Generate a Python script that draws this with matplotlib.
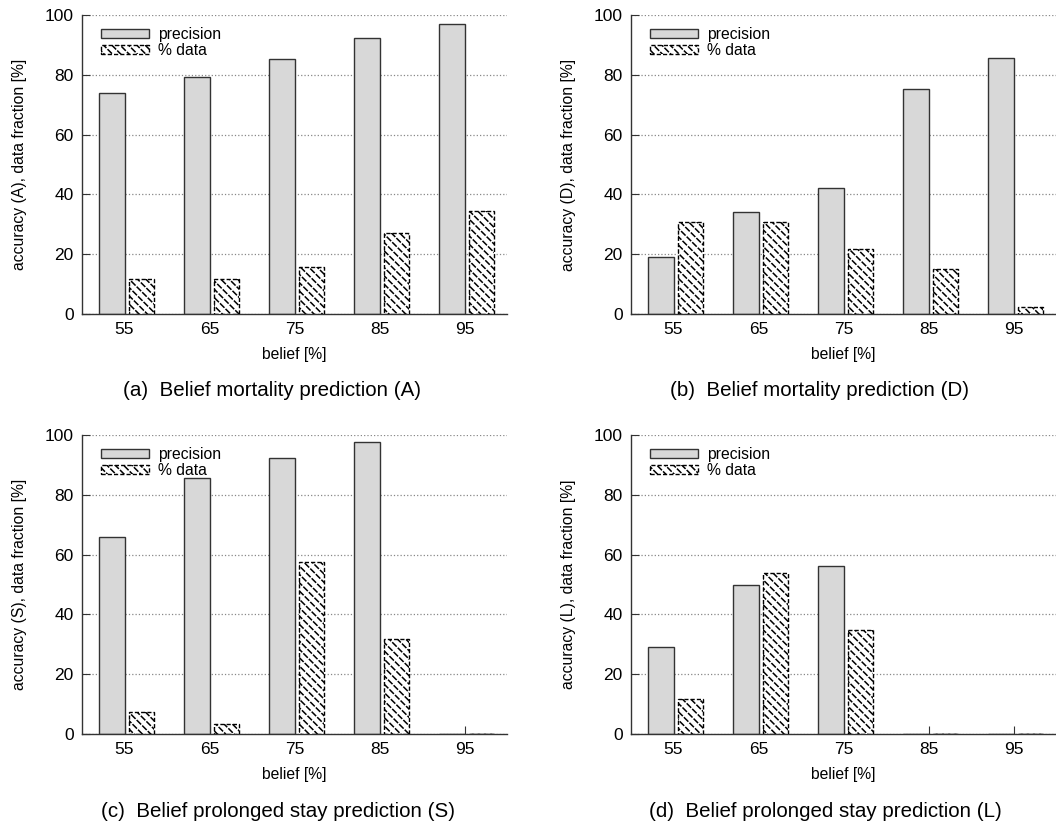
import numpy as np
import matplotlib
matplotlib.use("Agg")
import matplotlib.pyplot as plt
from matplotlib.patches import Patch
from matplotlib.legend_handler import HandlerTuple

plt.rcParams['font.family'] = ['Liberation Sans', 'DejaVu Sans']
plt.rcParams['hatch.linewidth'] = 1.1

belief = ['55', '65', '75', '85', '95']

# (a) mortality A
prec_a = [74.0, 79.4, 85.2, 92.3, 97.0]
data_a = [11.7, 11.7, 15.7, 27.1, 34.5]
# (b) mortality D
prec_b = [19.0, 34.1, 42.3, 75.1, 85.7]
data_b = [30.7, 30.7, 21.9, 14.9, 2.2]
# (c) prolonged stay S
prec_c = [65.9, 85.7, 92.2, 97.5, 0]
data_c = [7.5, 3.3, 57.5, 31.9, 0]
# (d) prolonged stay L
prec_d = [29.1, 49.9, 56.1, 0, 0]
data_d = [11.8, 53.8, 34.8, 0, 0]

panels = [
    (prec_a, data_a, 'accuracy (A), data fraction [%]', '(a)  Belief mortality prediction (A)'),
    (prec_b, data_b, 'accuracy (D), data fraction [%]', '(b)  Belief mortality prediction (D)'),
    (prec_c, data_c, 'accuracy (S), data fraction [%]', '(c)  Belief prolonged stay prediction (S)'),
    (prec_d, data_d, 'accuracy (L), data fraction [%]', '(d)  Belief prolonged stay prediction (L)'),
]

W, H = 1056, 822
fig = plt.figure(figsize=(W / 100, H / 100), dpi=100)

# axes boxes in pixels: left, top, right, bottom
boxes = [(82, 15, 507, 314), (631, 15, 1056, 314),
         (82, 435, 507, 734), (631, 435, 1056, 734)]
caption_pos = [(272, 390), (820, 390), (278, 811), (825, 811)]

gray = '#d8d8d8'
edge = '#333333'

for (prec, frac, ylab, cap), (l, t, r, b), (cx, cy) in zip(panels, boxes, caption_pos):
    ax = fig.add_axes([l / W, (H - b) / H, (r - l) / W, (b - t) / H])
    x = np.arange(len(belief))
    ax.bar(x - 0.3, prec, width=0.3, align='edge', color=gray,
           edgecolor=edge, linewidth=1.0, zorder=2)
    # hatched bars: black back-slashes broken up by white slashes -> dashed look
    ax.bar(x + 0.05, frac, width=0.3, align='edge', color='white',
           edgecolor='black', linewidth=0, hatch='\\\\\\\\', zorder=2)
    ax.bar(x + 0.05, frac, width=0.3, align='edge', fill=False,
           edgecolor='white', linewidth=0, hatch='///', zorder=3)
    ax.bar(x + 0.05, frac, width=0.3, align='edge', fill=False,
           edgecolor='black', linewidth=1.0, linestyle=(0, (3, 1.5)), zorder=4)
    ax.set_xlim(-0.5, 4.5)
    ax.set_ylim(0, 100)
    ax.set_xticks(x)
    ax.set_xticklabels(belief)
    ax.set_yticks(range(0, 101, 20))
    ax.tick_params(direction='in', length=6, width=0.8, labelsize=12.5,
                   color='#333333', pad=6)
    ax.grid(axis='y', linestyle=':', color='#888888', linewidth=0.9)
    ax.set_axisbelow(True)
    for s in ['top', 'right']:
        ax.spines[s].set_visible(False)
    for s in ['left', 'bottom']:
        ax.spines[s].set_color('#333333')
        ax.spines[s].set_linewidth(1.0)
    ax.set_xlabel('belief [%]', fontsize=11.3, labelpad=7)
    ax.set_ylabel(ylab, fontsize=11.3, labelpad=13)

    h_prec = Patch(facecolor=gray, edgecolor=edge, linewidth=1.0)
    h_data = (Patch(facecolor='white', edgecolor='black', linewidth=0, hatch='\\\\\\\\'),
              Patch(fill=False, edgecolor='white', linewidth=0, hatch='///'),
              Patch(fill=False, edgecolor='black', linewidth=1.0, linestyle=(0, (3, 1.5))))
    ax.legend([h_prec, h_data], ['precision', '% data'],
              handler_map={tuple: HandlerTuple(ndivide=1)},
              loc='upper left', bbox_to_anchor=(0.02, 0.995), frameon=False,
              fontsize=11.3, handlelength=3.0, handleheight=0.5,
              labelspacing=0.05, handletextpad=0.6, borderaxespad=0.3)
    fig.text(cx / W, 1 - cy / H, cap, fontsize=14.8, ha='center', va='center')

fig.savefig('out.png', dpi=100)
